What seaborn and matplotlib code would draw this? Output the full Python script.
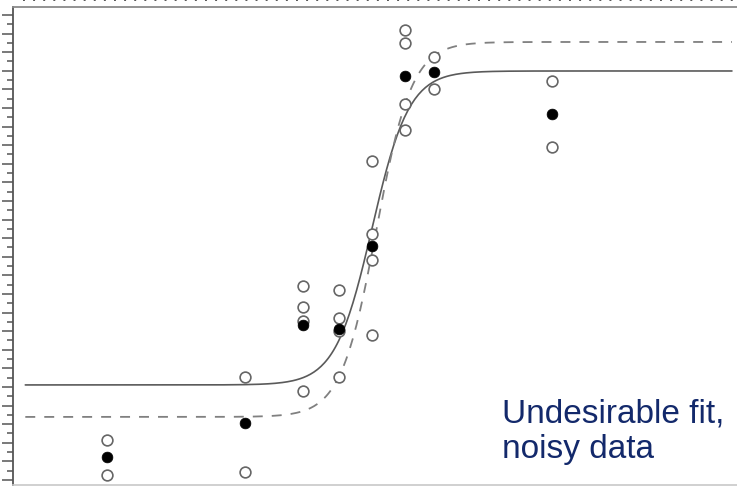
import numpy as np
import pandas as pd
import seaborn as sns
import matplotlib.pyplot as plt
from matplotlib.lines import Line2D
from matplotlib.ticker import MultipleLocator

sns.set_theme(style="white")
plt.rcParams['font.family'] = ['Liberation Sans', 'DejaVu Sans']

# replicate readings (open) and their means (filled), x = log dose
dose_open = [1.3, 1.3, 3.2, 3.2, 4.0, 4.0, 4.0, 4.0, 4.5, 4.5, 4.5, 4.5,
             4.96, 4.96, 4.96, 4.96, 5.41, 5.41, 5.41, 5.41, 5.81, 5.81, 7.45, 7.45]
resp_open = [21.5, 2.7, 55.4, 4.3, 104.3, 93.0, 85.5, 47.8, 102.2, 87.1, 80.1, 55.4,
             171.5, 132.3, 118.3, 78.0, 241.9, 234.9, 202.2, 188.2, 227.4, 210.2, 214.5, 179.0]
dose_mean = [1.3, 3.2, 4.0, 4.5, 4.96, 5.41, 5.81, 7.45]
resp_mean = [12.4, 30.6, 83.3, 81.2, 125.8, 217.2, 219.4, 196.8]

# fitted 4PL curves: bottom, top, midpoint, slope width
fit_solid = (51.1, 219.9, 4.96, 0.255)
fit_dashed = (33.9, 235.5, 5.02, 0.245)


def logistic(x, bottom, top, mid, width):
    return bottom + (top - bottom) / (1 + np.exp(-(x - mid) / width))


xx = np.linspace(0.17, 9.93, 400)
curves = pd.DataFrame({
    "dose": np.concatenate([xx, xx]),
    "response": np.concatenate([logistic(xx, *fit_solid), logistic(xx, *fit_dashed)]),
    "fit": ["solid"] * len(xx) + ["dashed"] * len(xx),
})

fig = plt.figure(figsize=(7.37, 4.89), dpi=100)
ax = fig.add_axes([13 / 737, 3 / 489, 1 - 13 / 737, 1 - 11 / 489])

sns.lineplot(data=curves[curves.fit == "solid"], x="dose", y="response",
             color="#5a5a5a", lw=1.2, ax=ax)
sns.lineplot(data=curves[curves.fit == "dashed"], x="dose", y="response",
             color="#808080", lw=1.3, ax=ax, linestyle=(0, (5.5, 5)))

sns.scatterplot(x=dose_open, y=resp_open, s=60, facecolor="white",
                edgecolor="#666666", linewidth=1.2, ax=ax, zorder=3)
sns.scatterplot(x=dose_mean, y=resp_mean, s=60, color="black",
                edgecolor="black", linewidth=0.5, ax=ax, zorder=4)

ax.set_xlim(0, 10)
ax.set_ylim(-2.7, 254.3)
ax.set_xlabel("")
ax.set_ylabel("")
ax.set_xticks([])
ax.yaxis.set_major_locator(MultipleLocator(10))
ax.yaxis.set_minor_locator(MultipleLocator(5))
ax.tick_params(axis="y", which="major", left=True, length=8, width=1.1,
               color="#555555", labelleft=False)
ax.tick_params(axis="y", which="minor", left=True, length=4.3, width=1.1,
               color="#555555")

ax.spines["left"].set_color("#555555")
ax.spines["left"].set_linewidth(1.3)
ax.spines["top"].set_color("#8a8a8a")
ax.spines["top"].set_linewidth(1.3)
ax.spines["bottom"].set_color("#c8c8c8")
ax.spines["bottom"].set_linewidth(1.2)
ax.spines["right"].set_visible(False)

ax.text(0.676, 0.184, "Undesirable fit,\nnoisy data", transform=ax.transAxes,
        fontsize=24, color="#13296b", ha="left", va="top", linespacing=1.2)

# dotted edge of the frame above
fig.add_artist(Line2D([23 / 737, 1], [1 - 1 / 489, 1 - 1 / 489], color="#555555",
                      lw=1.4, linestyle=(0, (1, 4.2))))

fig.savefig("out.png", dpi=100)
